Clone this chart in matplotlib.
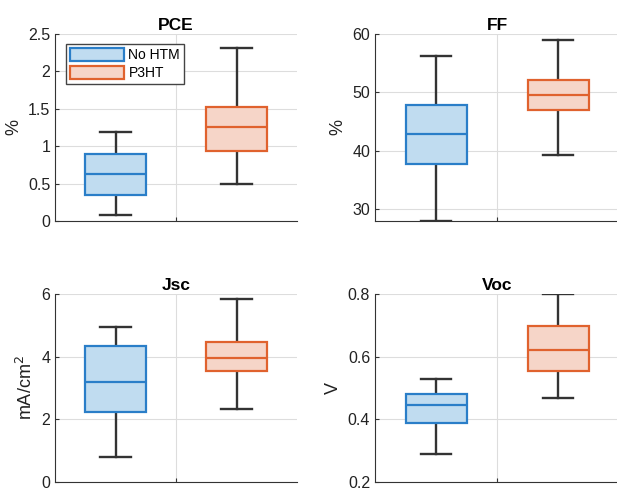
import matplotlib.pyplot as plt
import numpy as np

plt.rcParams['font.family'] = ['Liberation Sans', 'DejaVu Sans']

groups = ['No HTM', 'P3HT']
# five-number summaries: [low whisker, Q1, median, Q3, high whisker]
pce = [[0.08, 0.35, 0.63, 0.89, 1.19], [0.50, 0.94, 1.26, 1.53, 2.31]]
ff = [[27.9, 37.7, 42.8, 47.8, 56.3], [39.3, 47.0, 49.6, 52.1, 58.9]]
jsc = [[0.79, 2.24, 3.18, 4.34, 4.95], [2.33, 3.55, 3.97, 4.48, 5.84]]
voc = [[0.29, 0.389, 0.447, 0.48, 0.53], [0.469, 0.554, 0.62, 0.699, 0.80]]

titles = ['PCE', 'FF', 'Jsc', 'Voc']
ylabels = ['%', '%', 'mA/cm$^2$', 'V']
ylims = [(0, 2.5), (27.9, 60), (0, 6), (0.2, 0.8)]
yticks = [[0, 0.5, 1, 1.5, 2, 2.5], [30, 40, 50, 60], [0, 2, 4, 6], [0.2, 0.4, 0.6, 0.8]]
yticklabels = [['0', '0.5', '1', '1.5', '2', '2.5'], ['30', '40', '50', '60'],
               ['0', '2', '4', '6'], ['0.2', '0.4', '0.6', '0.8']]

edge_cols = ['#2a7ec8', '#e0622e']
face_cols = ['#c0dcf0', '#f6d5c8']

W, H = 617, 488
fig = plt.figure(figsize=(W / 100, H / 100), dpi=100)
boxes = [(55, 34, 242, 187), (375, 34, 244, 187), (55, 294, 242, 188), (375, 294, 244, 188)]

data = [pce, ff, jsc, voc]
for k in range(4):
    x0, y0, w, h = boxes[k]
    ax = fig.add_axes([x0 / W, 1 - (y0 + h) / H, w / W, h / H])
    stats = []
    for g in range(2):
        lo, q1, med, q3, hi = data[k][g]
        stats.append(dict(whislo=lo, q1=q1, med=med, q3=q3, whishi=hi, fliers=[], label=groups[g]))
    bp = ax.bxp(stats, positions=[1, 2], widths=0.5, patch_artist=True, showfliers=False,
                whiskerprops=dict(color='#333333', lw=1.7),
                capprops=dict(color='#333333', lw=1.7), capwidths=0.25)
    for g in range(2):
        bp['boxes'][g].set_facecolor(face_cols[g])
        bp['boxes'][g].set_edgecolor(edge_cols[g])
        bp['boxes'][g].set_linewidth(1.6)
        bp['medians'][g].set_color(edge_cols[g])
        bp['medians'][g].set_linewidth(1.6)
        bp['boxes'][g].set_zorder(3)
        bp['medians'][g].set_zorder(4)
    ax.set_xlim(0.5, 2.5)
    ax.set_xticks([1.5])
    ax.set_xticklabels([''])
    ax.set_ylim(*ylims[k])
    ax.set_yticks(yticks[k])
    ax.set_yticklabels(yticklabels[k])
    ax.grid(True, color='#dddddd', lw=0.8)
    ax.set_axisbelow(True)
    for s in ['top', 'right']:
        ax.spines[s].set_visible(False)
    for s in ['left', 'bottom']:
        ax.spines[s].set_color('#333333')
    ax.tick_params(direction='in', length=3, colors='#333333', labelsize=11.5, labelcolor='#222222')
    ax.set_title(titles[k], fontsize=12.5, fontweight='bold', pad=3)
    ax.set_ylabel(ylabels[k], fontsize=13, color='#222222', labelpad=4)
    if k == 0:
        leg = ax.legend([bp['boxes'][0], bp['boxes'][1]], groups, loc='upper left',
                        bbox_to_anchor=(11 / w, 1 - 10 / h), fontsize=10, fancybox=False,
                        framealpha=1, edgecolor='#444444', handlelength=3.9, handleheight=1.0,
                        handletextpad=0.3, borderpad=0.3, labelspacing=0.3, borderaxespad=0)
        leg.get_frame().set_linewidth(1.0)

fig.savefig('out.png', dpi=100)
